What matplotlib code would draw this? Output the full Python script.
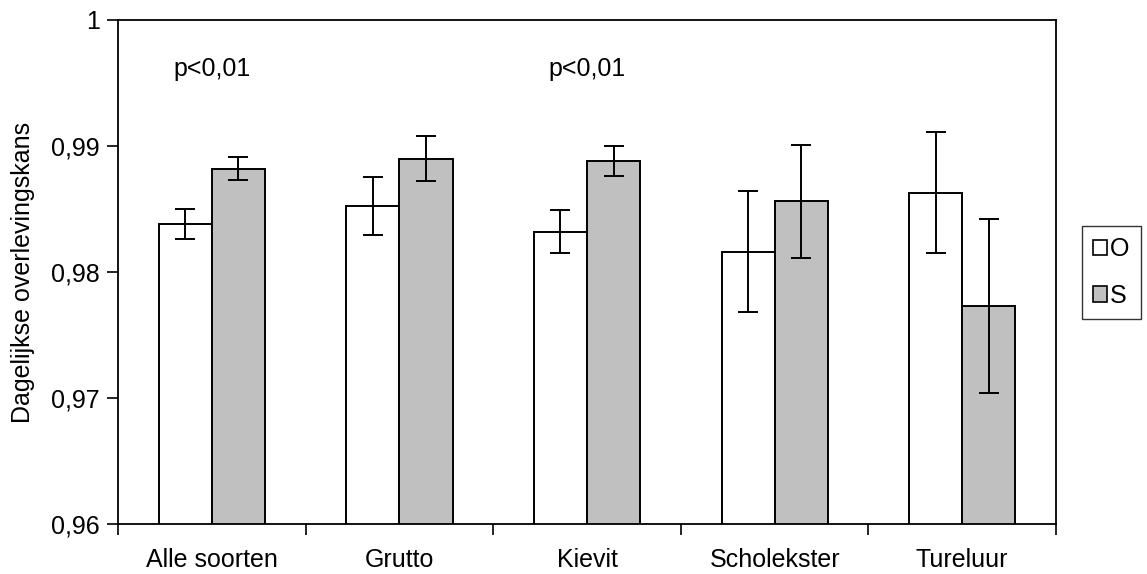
import numpy as np
import matplotlib
matplotlib.use("Agg")
import matplotlib.pyplot as plt
from matplotlib.patches import Patch

plt.rcParams['font.family'] = ['Liberation Sans', 'DejaVu Sans']

# Data
soorten = ['Alle soorten', 'Grutto', 'Kievit', 'Scholekster', 'Tureluur']
waarde_O = [0.9838, 0.9852, 0.9832, 0.9816, 0.9863]
fout_O = [0.0012, 0.0023, 0.0017, 0.0048, 0.0048]
waarde_S = [0.9882, 0.9890, 0.9888, 0.9856, 0.9773]
fout_S = [0.0009, 0.0018, 0.0012, 0.0045, 0.0069]
y_ticks = [0.96, 0.97, 0.98, 0.99, 1.0]
y_labels = ['0,96', '0,97', '0,98', '0,99', '1']
p_labels = ['p<0,01', 'p<0,01']
p_index = [0, 2]

fs = 18
fig = plt.figure(figsize=(11.47, 5.74), dpi=100)
ax = fig.add_axes([0.1029, 0.0871, 0.8178, 0.8781])

x = np.arange(len(soorten))
w = 0.283
ax.bar(x - w / 2, waarde_O, w, color='white', edgecolor='black', linewidth=1.4, zorder=2)
ax.bar(x + w / 2, waarde_S, w, color='#C0C0C0', edgecolor='black', linewidth=1.4, zorder=2)
ax.errorbar(x - w / 2, waarde_O, yerr=fout_O, fmt='none', ecolor='black',
            elinewidth=1.4, capsize=7, capthick=1.4, zorder=3)
ax.errorbar(x + w / 2, waarde_S, yerr=fout_S, fmt='none', ecolor='black',
            elinewidth=1.4, capsize=7, capthick=1.4, zorder=3)

for lab, i in zip(p_labels, p_index):
    ax.text(x[i], 0.9961, lab, ha='center', va='center', fontsize=fs)

ax.set_xlim(-0.5, len(soorten) - 0.5)
ax.set_ylim(0.96, 1.0)
ax.set_yticks(y_ticks)
ax.set_yticklabels(y_labels, fontsize=fs)
ax.set_xticks(x)
ax.set_xticklabels(soorten, fontsize=fs)
ax.set_xticks(np.arange(len(soorten) + 1) - 0.5, minor=True)
ax.tick_params(axis='x', which='major', length=0, pad=17)
ax.tick_params(axis='x', which='minor', length=8, width=1.2, direction='out')
ax.tick_params(axis='y', length=8, width=1.2, direction='out', pad=5)
ax.set_ylabel('Dagelijkse overlevingskans', fontsize=fs, labelpad=12)
for s in ax.spines.values():
    s.set_linewidth(1.3)

handles = [Patch(facecolor='white', edgecolor='black', linewidth=1.2, label='O'),
           Patch(facecolor='#C0C0C0', edgecolor='black', linewidth=1.2, label='S')]
leg = fig.legend(handles=handles, loc='upper left', bbox_to_anchor=(1082 / 1147, 1 - 226 / 574),
                 bbox_transform=fig.transFigure, fontsize=fs, frameon=True, fancybox=False,
                 edgecolor='black', handlelength=0.56, handleheight=0.56, handletextpad=0.1,
                 labelspacing=0.9, borderpad=0.45, borderaxespad=0)
leg.get_frame().set_linewidth(1.0)

fig.savefig('out.png', dpi=100)
